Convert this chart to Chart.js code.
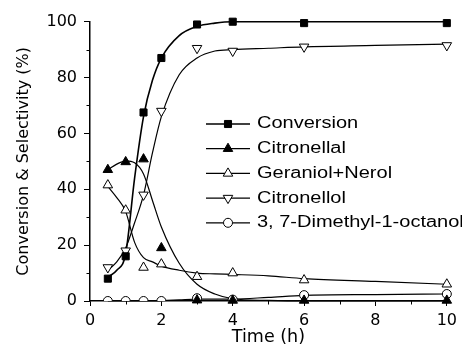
<!DOCTYPE html>
<html>
<head>
<meta charset="utf-8">
<script src="https://cdn.jsdelivr.net/npm/chart.js@4.4.1/dist/chart.umd.min.js"></script>
<style>
  html, body { margin: 0; padding: 0; background: #fff; }
</style>
</head>
<body>
<canvas id="chart" width="462" height="355"></canvas>
<script>
// measured points (time in h, value in %)
const times = [0.5, 1, 1.5, 2, 3, 4, 6, 10];
const conversion = [8, 16, 67.5, 87, 99, 100, 99.5, 99.5];
const citronellal = [47, 49.8, 50.8, 19, 0.3, 0.2, 0.2, 0.2];
const geraniolNerol = [41.5, 32.5, 12, 13.2, 8.7, 10, 7.5, 6];
const citronellol = [12, 18, 38, 68, 90.5, 89.5, 91, 91.5];
const dimethylOctanol = [0, 0, 0, 0, 1, 0.5, 2.1, 2.5];

// fitted curves
const fitTimes = [0.5, 0.75, 1, 1.25, 1.5, 1.75, 2, 2.5, 3, 3.5, 4, 5, 6, 8, 10];
const conversionFit = [8.5, 11, 17, 44, 66, 79, 87, 95, 98.3, 99.5, 100, 100, 100, 100, 100];
const citronellalFit = [47, 49, 50.2, 49.5, 45.5, 36, 26.5, 13.5, 6, 2.5, 0.8, 0.2, 0, 0, 0];
const geraniolNerolFit = [41, 37, 32, 21, 15.5, 14, 12.5, 11, 10, 9.7, 9.5, 9, 8, 7, 6];
const citronellolFit = [11, 14, 19, 28, 38, 53, 66, 81, 87, 89.5, 90, 90.5, 91, 91.5, 92];
const dimethylOctanolFit = [0, 0, 0, 0, 0, 0, 0.1, 0.4, 0.7, 0.7, 0.7, 1.3, 2, 2.3, 2.5];

const seriesNames = ['Conversion', 'Citronellal', 'Geraniol+Nerol', 'Citronellol', '3, 7-Dimethyl-1-octanol'];
const xTicks = [0, 2, 4, 6, 8, 10];
const yTicks = [0, 20, 40, 60, 80, 100];
const xMinorTicks = [1, 3, 5, 7, 9];
const yMinorTicks = [10, 30, 50, 70, 90];

const seriesPoints = [conversion, citronellal, geraniolNerol, citronellol, dimethylOctanol];
const seriesFits = [conversionFit, citronellalFit, geraniolNerolFit, citronellolFit, dimethylOctanolFit];

// marker look for each series
const markers = [
  { style: 'rect', fill: '#000', radius: 5, rotation: 0, line: 1.6 },
  { style: 'triangle', fill: '#000', radius: 5.5, rotation: 0, line: 1.2 },
  { style: 'triangle', fill: '#fff', radius: 5.5, rotation: 0, line: 1.2 },
  { style: 'triangle', fill: '#fff', radius: 5.5, rotation: 180, line: 1.2 },
  { style: 'circle', fill: '#fff', radius: 4.5, rotation: 0, line: 1.2 }
];

const datasets = [];
seriesNames.forEach((name, i) => {
  datasets.push({
    label: name,
    data: times.map((t, j) => ({ x: t, y: seriesPoints[i][j] })),
    showLine: false,
    pointStyle: markers[i].style,
    pointRadius: markers[i].radius,
    pointRotation: markers[i].rotation,
    pointBackgroundColor: markers[i].fill,
    pointBorderColor: '#000',
    pointBorderWidth: 1,
    // open circles sitting on the axis are cut at the plot edge
    clip: markers[i].style === 'circle' ? { left: 10, top: 10, right: 10, bottom: 0 } : false
  });
});
seriesNames.forEach((name, i) => {
  datasets.push({
    label: name + ' fit',
    data: fitTimes.map((t, j) => ({ x: t, y: seriesFits[i][j] })),
    borderColor: '#000',
    borderWidth: markers[i].line,
    pointRadius: 0,
    cubicInterpolationMode: 'monotone',
    clip: false
  });
});

function drawMarker(ctx, m, x, y) {
  ctx.fillStyle = m.fill;
  ctx.strokeStyle = '#000';
  ctx.lineWidth = 1;
  Chart.helpers.drawPoint(ctx, { pointStyle: m.style, rotation: m.rotation, radius: m.radius, borderWidth: 1 }, x, y);
}

// minor ticks + in-plot legend
const extras = {
  id: 'extras',
  afterDraw(chart) {
    const { ctx, scales: { x, y } } = chart;
    ctx.save();
    ctx.strokeStyle = '#000';
    ctx.lineWidth = 1;
    ctx.beginPath();
    xMinorTicks.forEach(v => {
      const px = Math.round(x.getPixelForValue(v)) + 0.5;
      ctx.moveTo(px, y.bottom);
      ctx.lineTo(px, y.bottom + 3.5);
    });
    yMinorTicks.forEach(v => {
      const py = Math.round(y.getPixelForValue(v)) + 0.5;
      ctx.moveTo(x.left, py);
      ctx.lineTo(x.left - 3.5, py);
    });
    ctx.stroke();

    const x0 = 206, x1 = 250, tx = 257, top = 124, step = 24.7;
    seriesNames.forEach((name, i) => {
      const ry = top + i * step;
      ctx.beginPath();
      ctx.lineWidth = markers[i].line;
      ctx.strokeStyle = '#000';
      ctx.moveTo(x0, ry);
      ctx.lineTo(x1, ry);
      ctx.stroke();
      drawMarker(ctx, markers[i], (x0 + x1) / 2, ry);
      ctx.save();
      ctx.fillStyle = '#000';
      ctx.font = '16px "Liberation Sans", Arial, sans-serif';
      ctx.textBaseline = 'middle';
      ctx.translate(tx, ry);
      ctx.scale(1.25, 1);
      ctx.fillText(name, 0, 0);
      ctx.restore();
    });
    ctx.restore();
  }
};

const tickFont = { family: 'DejaVu Sans', size: 16 };

new Chart(document.getElementById('chart'), {
  type: 'line',
  data: { datasets: datasets },
  options: {
    responsive: false,
    animation: false,
    layout: { padding: { top: 21.7, right: 10.3, left: 0, bottom: 0 } },
    plugins: { legend: { display: false }, tooltip: { enabled: false } },
    scales: {
      x: {
        type: 'linear',
        min: 0,
        max: 10,
        afterBuildTicks: s => { s.ticks = xTicks.map(v => ({ value: v })); },
        afterFit: s => { s.height = 54; },
        ticks: { color: '#000', font: tickFont, padding: 5, maxRotation: 0, autoSkip: false },
        grid: { drawOnChartArea: false, drawTicks: true, tickLength: 5, color: '#000', lineWidth: 1 },
        border: { display: true, color: '#000', width: 1.5 },
        title: { display: true, text: 'Time (h)', color: '#000', font: { family: 'DejaVu Sans', size: 17.5 }, padding: { top: 0, bottom: 7 } }
      },
      y: {
        min: 0,
        max: 100,
        afterBuildTicks: s => { s.ticks = yTicks.map(v => ({ value: v })); },
        afterFit: s => { s.width = 90; },
        ticks: { color: '#000', font: tickFont, padding: 7, autoSkip: false },
        grid: { drawOnChartArea: false, drawTicks: true, tickLength: 6, color: '#000', lineWidth: 1 },
        border: { display: true, color: '#000', width: 1.5 },
        title: { display: true, text: 'Conversion & Selectivity (%)', color: '#000', font: tickFont, padding: { top: 14, bottom: 0 } }
      }
    }
  },
  plugins: [extras]
});
</script>
</body>
</html>
